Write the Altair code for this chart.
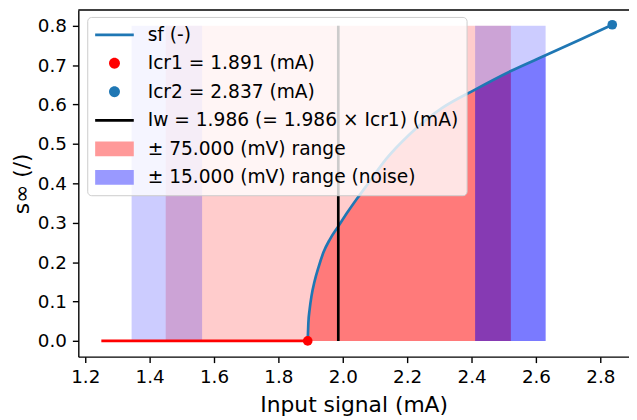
import altair as alt
import pandas as pd

# ---- data ----
sf_x = [1.891, 1.893, 1.897, 1.903, 1.912, 1.925, 1.940, 1.960, 1.987, 2.015,
        2.045, 2.080, 2.135, 2.207, 2.310, 2.411, 2.522, 2.630, 2.740, 2.837]
sf_y = [0.000, 0.045, 0.080, 0.115, 0.150, 0.188, 0.225, 0.258, 0.292, 0.327,
        0.362, 0.401, 0.462, 0.524, 0.592, 0.638, 0.685, 0.725, 0.766, 0.8025]

sub_x = [1.25, 1.891]          # below-critical segment (s = 0)
sub_y = [0.0, 0.0]

icr1_x, icr1_y = [1.891], [0.0]
icr2_x, icr2_y = [2.837], [0.8025]
iw_x = [1.986]
iw_y = [0.0]
iw_y2 = [0.80]

range_lo = [1.450]   # ± 75 mV range
range_hi = [2.522]
noise_lo = [1.344, 2.411]   # ± 15 mV noise ranges
noise_hi = [1.563, 2.630]
band_bottom = 0.0
band_top = 0.80

legend_labels = ["sf (-)", "Icr1 = 1.891 (mA)", "Icr2 = 2.837 (mA)",
                 "Iw = 1.986 (= 1.986 \u00d7 Icr1) (mA)",
                 "\u00b1 75.000 (mV) range", "\u00b1 15.000 (mV) range (noise)"]
legend_colors = ["#1f77b4", "#ff0000", "#1f77b4", "#000000", "#ff9999", "#9999ff"]

x_ticks = [1.2, 1.4, 1.6, 1.8, 2.0, 2.2, 2.4, 2.6, 2.8]
y_ticks = [0.0, 0.1, 0.2, 0.3, 0.4, 0.5, 0.6, 0.7, 0.8]
x_domain = [1.1785, 2.889]
y_domain = [-0.04, 0.84]

# ---- tables ----
sf_df = pd.DataFrame({"x": sf_x, "y": sf_y})
sub_df = pd.DataFrame({"x": sub_x, "y": sub_y})
icr1_df = pd.DataFrame({"x": icr1_x, "y": icr1_y})
icr2_df = pd.DataFrame({"x": icr2_x, "y": icr2_y})
iw_df = pd.DataFrame({"x": iw_x, "y": iw_y, "y2": iw_y2})
range_df = pd.DataFrame({"x": range_lo, "x2": range_hi,
                         "y": [band_bottom] * len(range_lo), "y2": [band_top] * len(range_lo)})
noise_df = pd.DataFrame({"x": noise_lo, "x2": noise_hi,
                         "y": [band_bottom] * len(noise_lo), "y2": [band_top] * len(noise_lo)})
legend_df = pd.DataFrame({"label": legend_labels})
frame_df = pd.DataFrame({"y": [y_domain[1]]})

# ---- scales / axes ----
xscale = alt.Scale(domain=x_domain, nice=False, zero=False)
yscale = alt.Scale(domain=y_domain, nice=False, zero=False)

x_axis = alt.Axis(orient="bottom", values=x_ticks, format=".1f", title="Input signal (mA)",
                  grid=False, titlePadding=9)
y_axis = alt.Axis(orient="left", values=y_ticks, format=".1f", title="s\u221e (/)", grid=False,
                  titlePadding=4, labelPadding=6)

RED = "#ff0000"
BLUE = "#0000ff"
SF = "#1f77b4"
LW = 2.7

light_red = alt.Chart(range_df).mark_rect(color=RED, opacity=0.2).encode(
    x=alt.X("x:Q", scale=xscale, axis=x_axis), x2="x2:Q",
    y=alt.Y("y:Q", scale=yscale, axis=y_axis), y2="y2:Q")

light_blue = alt.Chart(noise_df).mark_rect(color=BLUE, opacity=0.2).encode(
    x=alt.X("x:Q", scale=xscale, axis=None), x2="x2:Q",
    y=alt.Y("y:Q", scale=yscale, axis=None), y2="y2:Q")

dark_red = alt.Chart(sf_df).transform_filter(
    (alt.datum.x >= icr1_x[0]) & (alt.datum.x <= range_hi[0])
).mark_area(color=RED, opacity=0.4, interpolate="monotone").encode(
    x=alt.X("x:Q", scale=xscale, axis=None),
    y=alt.Y("y:Q", scale=yscale, axis=None), y2=alt.datum(band_bottom))

dark_blue = alt.Chart(sf_df).transform_filter(
    (alt.datum.x >= noise_lo[1]) & (alt.datum.x <= noise_hi[1])
).mark_area(color=BLUE, opacity=0.4, interpolate="monotone").encode(
    x=alt.X("x:Q", scale=xscale, axis=None),
    y=alt.Y("y:Q", scale=yscale, axis=None), y2=alt.datum(band_bottom))

sub_line = alt.Chart(sub_df).mark_line(color=RED, strokeWidth=LW).encode(
    x=alt.X("x:Q", scale=xscale, axis=None),
    y=alt.Y("y:Q", scale=yscale, axis=None))

sf_line = alt.Chart(sf_df).mark_line(color=SF, strokeWidth=LW, interpolate="monotone").encode(
    x=alt.X("x:Q", scale=xscale, axis=None),
    y=alt.Y("y:Q", scale=yscale, axis=None))

iw_rule = alt.Chart(iw_df).mark_rule(color="black", strokeWidth=LW).encode(
    x=alt.X("x:Q", scale=xscale, axis=None),
    y=alt.Y("y:Q", scale=yscale, axis=None), y2="y2:Q")

top_frame = alt.Chart(frame_df).mark_rule(color="black", strokeWidth=1.4).encode(
    y=alt.Y("y:Q", scale=yscale, axis=None))

icr1_pt = alt.Chart(icr1_df).mark_circle(color=RED, size=95, opacity=1).encode(
    x=alt.X("x:Q", scale=xscale, axis=None),
    y=alt.Y("y:Q", scale=yscale, axis=None))

icr2_pt = alt.Chart(icr2_df).mark_circle(color=SF, size=95, opacity=1).encode(
    x=alt.X("x:Q", scale=xscale, axis=None),
    y=alt.Y("y:Q", scale=yscale, axis=None))

# legend symbols (custom paths, unit = 10 px at symbolSize 400)
P_LINE = "M-1,-0.14H2.9V0.14H-1Z"
P_DOT = "M1.5,0A0.55,0.55 0 1,1 0.4,0A0.55,0.55 0 1,1 1.5,0Z"
P_PATCH = "M-1,-0.75H2.9V0.75H-1Z"
legend_shapes = [P_LINE, P_DOT, P_DOT, P_LINE, P_PATCH, P_PATCH]

leg = alt.Legend(title=None, orient="none", legendX=9, legendY=7,
                 fillColor="rgba(255,255,255,0.8)", strokeColor="#cccccc",
                 cornerRadius=4, padding=8, symbolSize=400, symbolStrokeWidth=0,
                 symbolOpacity=1, labelOffset=33, labelLimit=0, rowPadding=8.8,
                 labelFontSize=18.8, labelFont="DejaVu Sans", labelColor="black")

legend_layer = alt.Chart(legend_df).mark_point(filled=True, opacity=0, size=1).encode(
    color=alt.Color("label:N", scale=alt.Scale(domain=legend_labels, range=legend_colors),
                    legend=leg, sort=legend_labels),
    shape=alt.Shape("label:N", scale=alt.Scale(domain=legend_labels, range=legend_shapes),
                    legend=leg, sort=legend_labels))

chart = alt.layer(
    light_red, light_blue, dark_red, dark_blue,
    sub_line, sf_line, iw_rule, top_frame, icr1_pt, icr2_pt, legend_layer
).resolve_axis(
    x="independent", y="independent"
).properties(
    width=556, height=350,
    autosize=alt.AutoSizeParams(type="none"),
    padding={"left": 71, "top": 0, "right": 0, "bottom": 70},
).configure(
    font="DejaVu Sans"
).configure_view(
    stroke=None
).configure_axis(
    labelFontSize=18.5, titleFontSize=22, labelColor="black", titleColor="black",
    titleFontWeight="normal", tickColor="black", domainColor="black",
    tickSize=6, tickWidth=1.4, domainWidth=1.4, labelPadding=5,
    labelFont="DejaVu Sans", titleFont="DejaVu Sans"
)

chart.save("out.html", embed_options={"renderer": "svg", "actions": False})
